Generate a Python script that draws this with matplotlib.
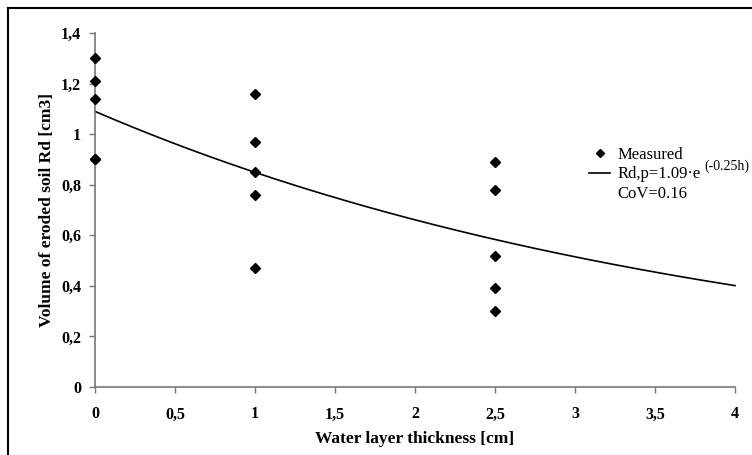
import numpy as np
import matplotlib.pyplot as plt
from matplotlib.lines import Line2D

# measured points (water layer thickness h [cm], eroded volume Rd [cm3])
h_meas = [0, 0, 0, 0, 0, 1, 1, 1, 1, 1, 2.5, 2.5, 2.5, 2.5, 2.5]
rd_meas = [1.30, 1.21, 1.14, 0.90, 0.90, 1.16, 0.97, 0.85, 0.76, 0.47, 0.89, 0.78, 0.52, 0.39, 0.30]

# fitted curve Rd,p = a * exp(b*h)
fit_a = 1.09
fit_b = -0.25
cov = 0.16

xticks = [0, 0.5, 1, 1.5, 2, 2.5, 3, 3.5, 4]
xtick_labels = ["0", "0,5", "1", "1,5", "2", "2,5", "3", "3,5", "4"]
yticks = [0, 0.2, 0.4, 0.6, 0.8, 1.0, 1.2, 1.4]
ytick_labels = ["0", "0,2", "0,4", "0,6", "0,8", "1", "1,2", "1,4"]

plt.rcParams['font.family'] = ['Liberation Serif', 'DejaVu Serif']

fig = plt.figure(figsize=(7.52, 4.55), dpi=100)
ax = fig.add_axes([95/752, 1 - 387/455, (735 - 95)/752, (387 - 33)/455])

hh = np.linspace(0, 4, 200)
ax.plot(hh, fit_a * np.exp(fit_b * hh), color='black', lw=1.2, clip_on=False)
ax.plot(h_meas, rd_meas, linestyle='none', marker='D', ms=5, color='black', clip_on=False, zorder=3)

ax.set_xlim(0, 4)
ax.set_ylim(0, 1.4)
ax.set_xticks(xticks)
ax.set_xticklabels(xtick_labels)
ax.set_yticks(yticks)
ax.set_yticklabels(ytick_labels)
for lab in ax.get_xticklabels() + ax.get_yticklabels():
    lab.set_fontweight('bold')
    lab.set_fontsize(11.5)

for s in ['top', 'right']:
    ax.spines[s].set_visible(False)
for s in ['left', 'bottom']:
    ax.spines[s].set_color('#777777')
    ax.spines[s].set_linewidth(1.2)
ax.tick_params(axis='both', direction='out', length=4, width=1.0, color='#777777')
ax.tick_params(axis='x', pad=10)
ax.tick_params(axis='y', pad=6)

ax.set_xlabel("Water layer thickness [cm]", fontsize=12.5, fontweight='bold', labelpad=6)
ax.set_ylabel("Volume of eroded soil Rd [cm3]", fontsize=12.5, fontweight='bold', labelpad=4)

handles = [
    Line2D([], [], linestyle='none', marker='D', ms=4, color='black'),
    Line2D([], [], color='black', lw=1.2),
    Line2D([], [], linestyle='none'),
]
labels = ["Measured",
          "Rd,p=1.09\u00b7e",
          "CoV=%.2f" % cov]
leg = ax.legend(handles, labels, loc='upper left', bbox_to_anchor=(0.748, 0.72),
                frameon=False, fontsize=12, handlelength=1.3, handletextpad=0.4,
                labelspacing=0.2)

# exponent of the fitted formula, set as superscript after the legend text
# (drawn after the legend so the legend text position is already known)
ax.annotate("(-0.25h)", xy=(1, 1), xycoords=leg.get_texts()[1],
            xytext=(3, 5), textcoords='offset points', fontsize=10,
            ha='left', va='top', zorder=10)

# outer frame (top and left edges visible)
fig.add_artist(Line2D([8/752, 1], [1 - 8/455, 1 - 8/455], transform=fig.transFigure, color='black', lw=1.5))
fig.add_artist(Line2D([8/752, 8/752], [0, 1 - 8/455], transform=fig.transFigure, color='black', lw=1.5))

fig.savefig("out.png", dpi=100)
